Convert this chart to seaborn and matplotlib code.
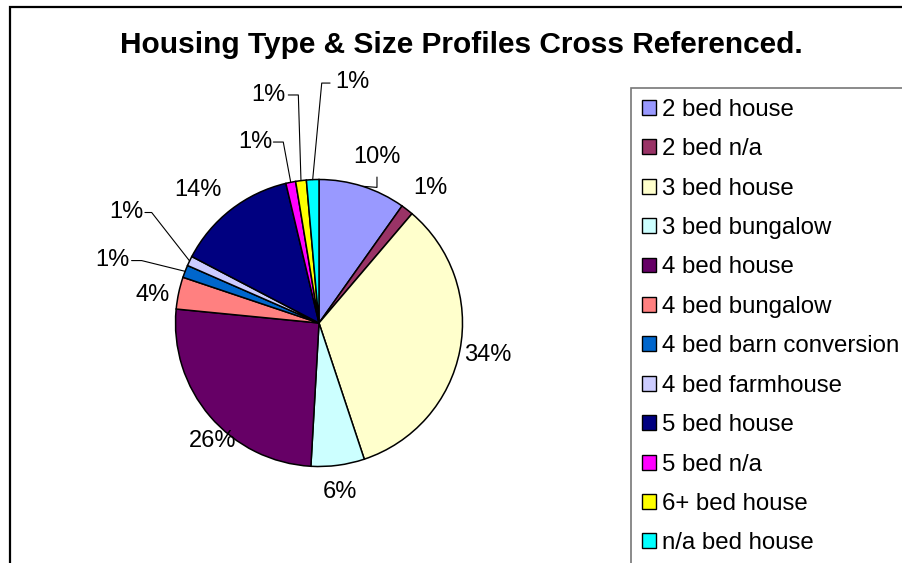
import numpy as np
import seaborn as sns
import matplotlib.pyplot as plt
from matplotlib.patches import Rectangle

# dados (percentagens aproximadas)
categorias = ["2 bed house", "2 bed n/a", "3 bed house", "3 bed bungalow",
              "4 bed house", "4 bed bungalow", "4 bed barn conversion",
              "4 bed farmhouse", "5 bed house", "5 bed n/a", "6+ bed house",
              "n/a bed house"]
valores = [9.8, 1.4, 33.6, 6.0, 25.6, 3.6, 1.4, 1.1, 13.6, 1.1, 1.2, 1.4]
cores = ["#9999FF", "#993366", "#FFFFCC", "#CCFFFF", "#660066", "#FF8080",
         "#0066CC", "#CCCCFF", "#000080", "#FF00FF", "#FFFF00", "#00FFFF"]
titulo = "Housing Type & Size Profiles Cross Referenced."

# posição dos rótulos (unidades do raio da pizza)
pos_rotulos = [(0.404, 1.157), (0.774, 0.941), (1.178, -0.223), (0.146, -1.178),
               (-0.739, -0.822), (-1.157, 0.195), (-1.439, 0.439), (-1.345, 0.775),
               (-0.843, 0.927), (-0.446, 1.261), (-0.355, 1.589), (0.23, 1.679)]
# linhas de chamada: indice -> (ponta junto ao rótulo, cotovelo)
chamadas = {
    0: ((0.404, 1.017), (0.404, 0.945)),
    6: ((-1.306, 0.435), (-1.236, 0.435)),
    7: ((-1.213, 0.770), (-1.166, 0.770)),
    9: ((-0.318, 1.261), (-0.249, 1.261)),
    10: ((-0.214, 1.589), (-0.144, 1.589)),
    11: ((0.077, 1.672), (0.019, 1.672)),
}

sns.set_theme(style="white")
plt.rcParams["font.family"] = ["Liberation Sans", "DejaVu Sans"]
plt.rcParams["text.color"] = "black"

W, H = 902, 563
fig = plt.figure(figsize=(W / 100, H / 100), dpi=100)
fig.patch.set_facecolor("white")

# moldura externa do gráfico (lado direito e inferior ficam fora da imagem)
fig.patches.append(Rectangle((10 / W, -0.2), 1.5, 1.2 - 7 / H, transform=fig.transFigure,
                             fill=False, edgecolor="black", linewidth=1.6))

fig.text(461 / W, 1 - 45 / H, titulo, ha="center", va="center",
         fontsize=21.5, fontweight="bold", color="black")

cx, cy, R = 319, 323, 143.5
ax = fig.add_axes([(cx - R) / W, 1 - (cy + R) / H, 2 * R / W, 2 * R / H])
fatias, _ = ax.pie(valores, colors=cores, startangle=90, counterclock=False,
                   wedgeprops=dict(edgecolor="black", linewidth=1.1))
ax.set_xlim(-1, 1)
ax.set_ylim(-1, 1)
ax.axis("off")

total = sum(valores)
for i, (fatia, v) in enumerate(zip(fatias, valores)):
    px, py = pos_rotulos[i]
    ax.text(px, py, f"{v / total * 100:.0f}%", ha="center", va="center",
            fontsize=17, color="black", clip_on=False)
    if i in chamadas:
        ponta, cotovelo = chamadas[i]
        ang = np.deg2rad((fatia.theta1 + fatia.theta2) / 2)
        ax.plot([ponta[0], cotovelo[0], np.cos(ang)], [ponta[1], cotovelo[1], np.sin(ang)],
                color="black", linewidth=0.8, clip_on=False)

leg = fig.legend(fatias, categorias, loc="upper left",
                 bbox_to_anchor=(631 / W, 1 - 88 / H), bbox_transform=fig.transFigure,
                 fontsize=17.3, frameon=True, fancybox=False, shadow=False,
                 handlelength=0.58, handleheight=0.58, handletextpad=0.24,
                 labelspacing=0.725, borderpad=0.45, borderaxespad=0)
leg.get_frame().set_edgecolor("#555555")
leg.get_frame().set_linewidth(1.2)
for t in leg.get_texts():
    t.set_color("black")
for h in leg.legend_handles:
    h.set_edgecolor("black")
    h.set_linewidth(1.0)

fig.savefig("out.png", dpi=100)
